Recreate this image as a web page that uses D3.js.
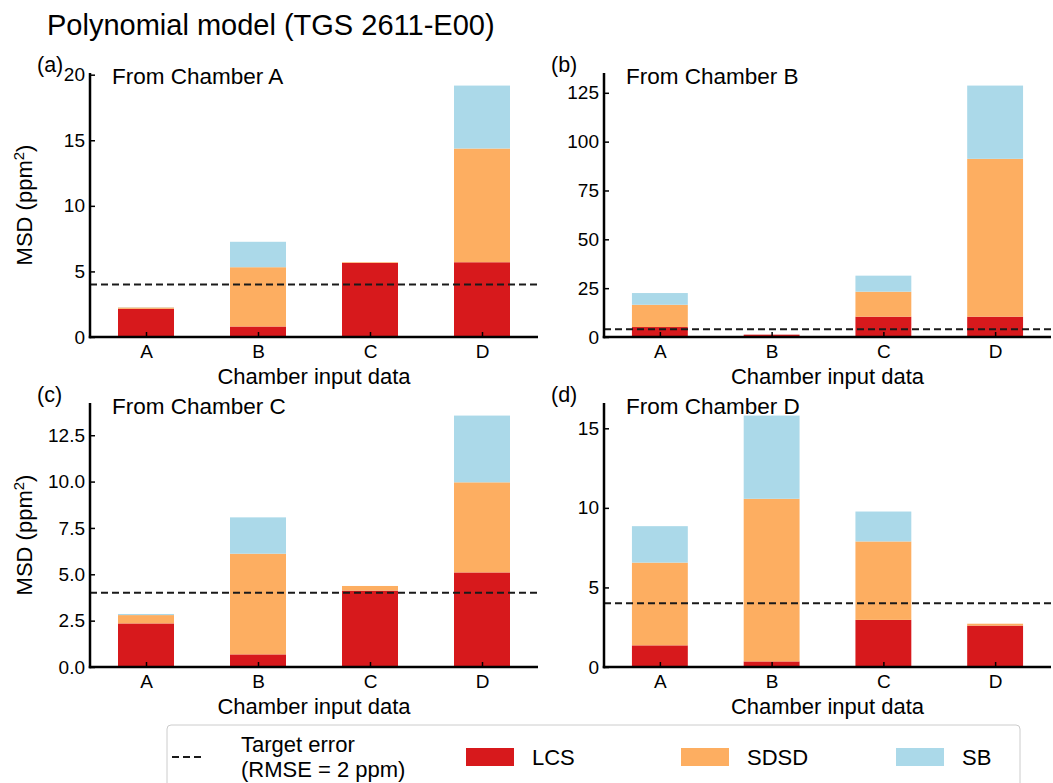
<!DOCTYPE html>
<html>
<head>
<meta charset="utf-8">
<script src="https://cdn.jsdelivr.net/npm/d3@7"></script>
<style>
  html, body { margin: 0; padding: 0; background: #fff; }
  svg { display: block; }
  text { font-family: "Liberation Sans", Arial, sans-serif; fill: #000; }
</style>
</head>
<body>
<svg id="chart" width="1053" height="783"></svg>
<script>
// ---------------- DATA ----------------
const categories = ["A", "B", "C", "D"];
const panelLetters = ["(a)", "(b)", "(c)", "(d)"];
const panelTitles = ["From Chamber A", "From Chamber B", "From Chamber C", "From Chamber D"];
const seriesNames = ["LCS", "SDSD", "SB"];
const seriesColors = ["#d7191c", "#fdae61", "#abd9e9"];
const targetMSD = 4; // (RMSE = 2 ppm)^2

// MSD components per input chamber (A, B, C, D)
const lcsA  = [2.15, 0.80, 5.65, 5.70];
const sdsdA = [0.10, 4.52, 0.05, 8.67];
const sbA   = [0.02, 1.94, 0.00, 4.80];

const lcsB  = [5.1, 1.2, 10.4, 10.4];
const sdsdB = [11.4, 0.0, 12.8, 80.8];
const sbB   = [6.0, 0.0, 8.2, 37.5];

const lcsC  = [2.35, 0.68, 4.12, 5.10];
const sdsdC = [0.45, 5.43, 0.25, 4.86];
const sbC   = [0.06, 1.96, 0.00, 3.60];

const lcsD  = [1.36, 0.35, 2.96, 2.60];
const sdsdD = [5.20, 10.22, 4.93, 0.12];
const sbD   = [2.29, 5.23, 1.88, 0.00];

const ticksA = [0, 5, 10, 15, 20];
const ticksB = [0, 25, 50, 75, 100, 125];
const ticksC = [0, 2.5, 5, 7.5, 10, 12.5];
const ticksD = [0, 5, 10, 15];
const tickFormats = ["d", "d", ".1f", "d"];

const panelData = [
  [lcsA, sdsdA, sbA],
  [lcsB, sdsdB, sbB],
  [lcsC, sdsdC, sbC],
  [lcsD, sdsdD, sbD]
];
const panelTicks = [ticksA, ticksB, ticksC, ticksD];

// ---------------- LAYOUT ----------------
const svg = d3.select("#chart");
const cols = [{ x0: 90, x1: 538 }, { x0: 604, x1: 1051 }];
const rows = [{ y0: 73, y1: 337 }, { y0: 403, y1: 667 }];

svg.append("text")
  .attr("x", 47).attr("y", 35)
  .attr("font-size", 29)
  .text("Polynomial model (TGS 2611-E00)");

panelData.forEach((series, p) => {
  const c = cols[p % 2], r = rows[Math.floor(p / 2)];
  const g = svg.append("g");

  const rowsData = categories.map((cat, i) => {
    const o = { cat };
    seriesNames.forEach((s, k) => o[s] = series[k][i]);
    return o;
  });
  const stacked = d3.stack().keys(seriesNames)(rowsData);
  const maxTotal = d3.max(rowsData, d => seriesNames.reduce((a, s) => a + d[s], 0));

  const x = d3.scaleLinear().domain([-0.5, categories.length - 0.5]).range([c.x0, c.x1]);
  const y = d3.scaleLinear().domain([0, maxTotal * 1.05]).range([r.y1, r.y0]);
  const barW = (x(1) - x(0)) * 0.5;

  stacked.forEach((layer, k) => {
    g.selectAll(null).data(layer).enter().append("rect")
      .attr("x", (d, i) => x(i) - barW / 2)
      .attr("width", barW)
      .attr("y", d => y(d[1]))
      .attr("height", d => Math.max(0, y(d[0]) - y(d[1])))
      .attr("fill", seriesColors[k]);
  });

  g.append("line")
    .attr("x1", c.x0).attr("x2", c.x1)
    .attr("y1", y(targetMSD)).attr("y2", y(targetMSD))
    .attr("stroke", "#1a1a1a").attr("stroke-width", 2)
    .attr("stroke-dasharray", "7,4");

  const yAxis = d3.axisRight(y).tickValues(panelTicks[p])
    .tickFormat(d3.format(tickFormats[p])).tickSize(5);
  const ya = g.append("g").attr("transform", `translate(${c.x0},0)`).call(yAxis);
  ya.select(".domain").remove();
  ya.selectAll(".tick line").attr("stroke", "#000").attr("stroke-width", 1.5);
  ya.selectAll(".tick text").attr("text-anchor", "end").attr("x", -5)
    .attr("font-size", 19).attr("font-family", "Liberation Sans, Arial, sans-serif").attr("fill", "#000");

  const xAxis = d3.axisTop(x).tickValues(d3.range(categories.length))
    .tickFormat(i => categories[i]).tickSize(5);
  const xa = g.append("g").attr("transform", `translate(0,${r.y1})`).call(xAxis);
  xa.select(".domain").remove();
  xa.selectAll(".tick line").attr("stroke", "#000").attr("stroke-width", 1.5);
  xa.selectAll(".tick text").attr("y", 21).attr("dy", 0)
    .attr("font-size", 19).attr("font-family", "Liberation Sans, Arial, sans-serif").attr("fill", "#000");

  g.append("line").attr("x1", c.x0).attr("x2", c.x0).attr("y1", r.y0).attr("y2", r.y1 + 1.25)
    .attr("stroke", "#000").attr("stroke-width", 2.5);
  g.append("line").attr("x1", c.x0 - 1.25).attr("x2", c.x1).attr("y1", r.y1).attr("y2", r.y1)
    .attr("stroke", "#000").attr("stroke-width", 2.5);

  g.append("text").attr("x", (c.x0 + c.x1) / 2).attr("y", r.y1 + 47)
    .attr("text-anchor", "middle").attr("font-size", 22).text("Chamber input data");

  if (p % 2 === 0) {
    const t = g.append("text")
      .attr("transform", `translate(32,${(r.y0 + r.y1) / 2}) rotate(-90)`)
      .attr("text-anchor", "middle").attr("font-size", 22);
    t.append("tspan").text("MSD (ppm");
    t.append("tspan").attr("font-size", 15).attr("dy", -8).text("2");
    t.append("tspan").attr("dy", 8).text(")");
  }

  g.append("text").attr("x", c.x0 - 53).attr("y", r.y0 - 1).attr("font-size", 21.5).text(panelLetters[p]);
  g.append("text").attr("x", c.x0 + 22).attr("y", r.y0 + 11).attr("font-size", 22.5).text(panelTitles[p]);
});

// ---------------- LEGEND ----------------
const lg = svg.append("g");
lg.append("rect").attr("x", 167).attr("y", 725).attr("width", 853).attr("height", 70)
  .attr("rx", 4).attr("fill", "#fff").attr("stroke", "#cccccc").attr("stroke-width", 1);
lg.append("line").attr("x1", 172).attr("x2", 204).attr("y1", 757).attr("y2", 757)
  .attr("stroke", "#1a1a1a").attr("stroke-width", 2).attr("stroke-dasharray", "7,4");
lg.append("text").attr("x", 241).attr("y", 752).attr("font-size", 22).text("Target error");
lg.append("text").attr("x", 241).attr("y", 777).attr("font-size", 22).text("(RMSE = 2 ppm)");

const legendX = [466, 681, 896];
seriesNames.forEach((s, k) => {
  lg.append("rect").attr("x", legendX[k]).attr("y", 748).attr("width", 48).attr("height", 18)
    .attr("fill", seriesColors[k]);
  lg.append("text").attr("x", legendX[k] + 66).attr("y", 765).attr("font-size", 22).text(s);
});
</script>
</body>
</html>
